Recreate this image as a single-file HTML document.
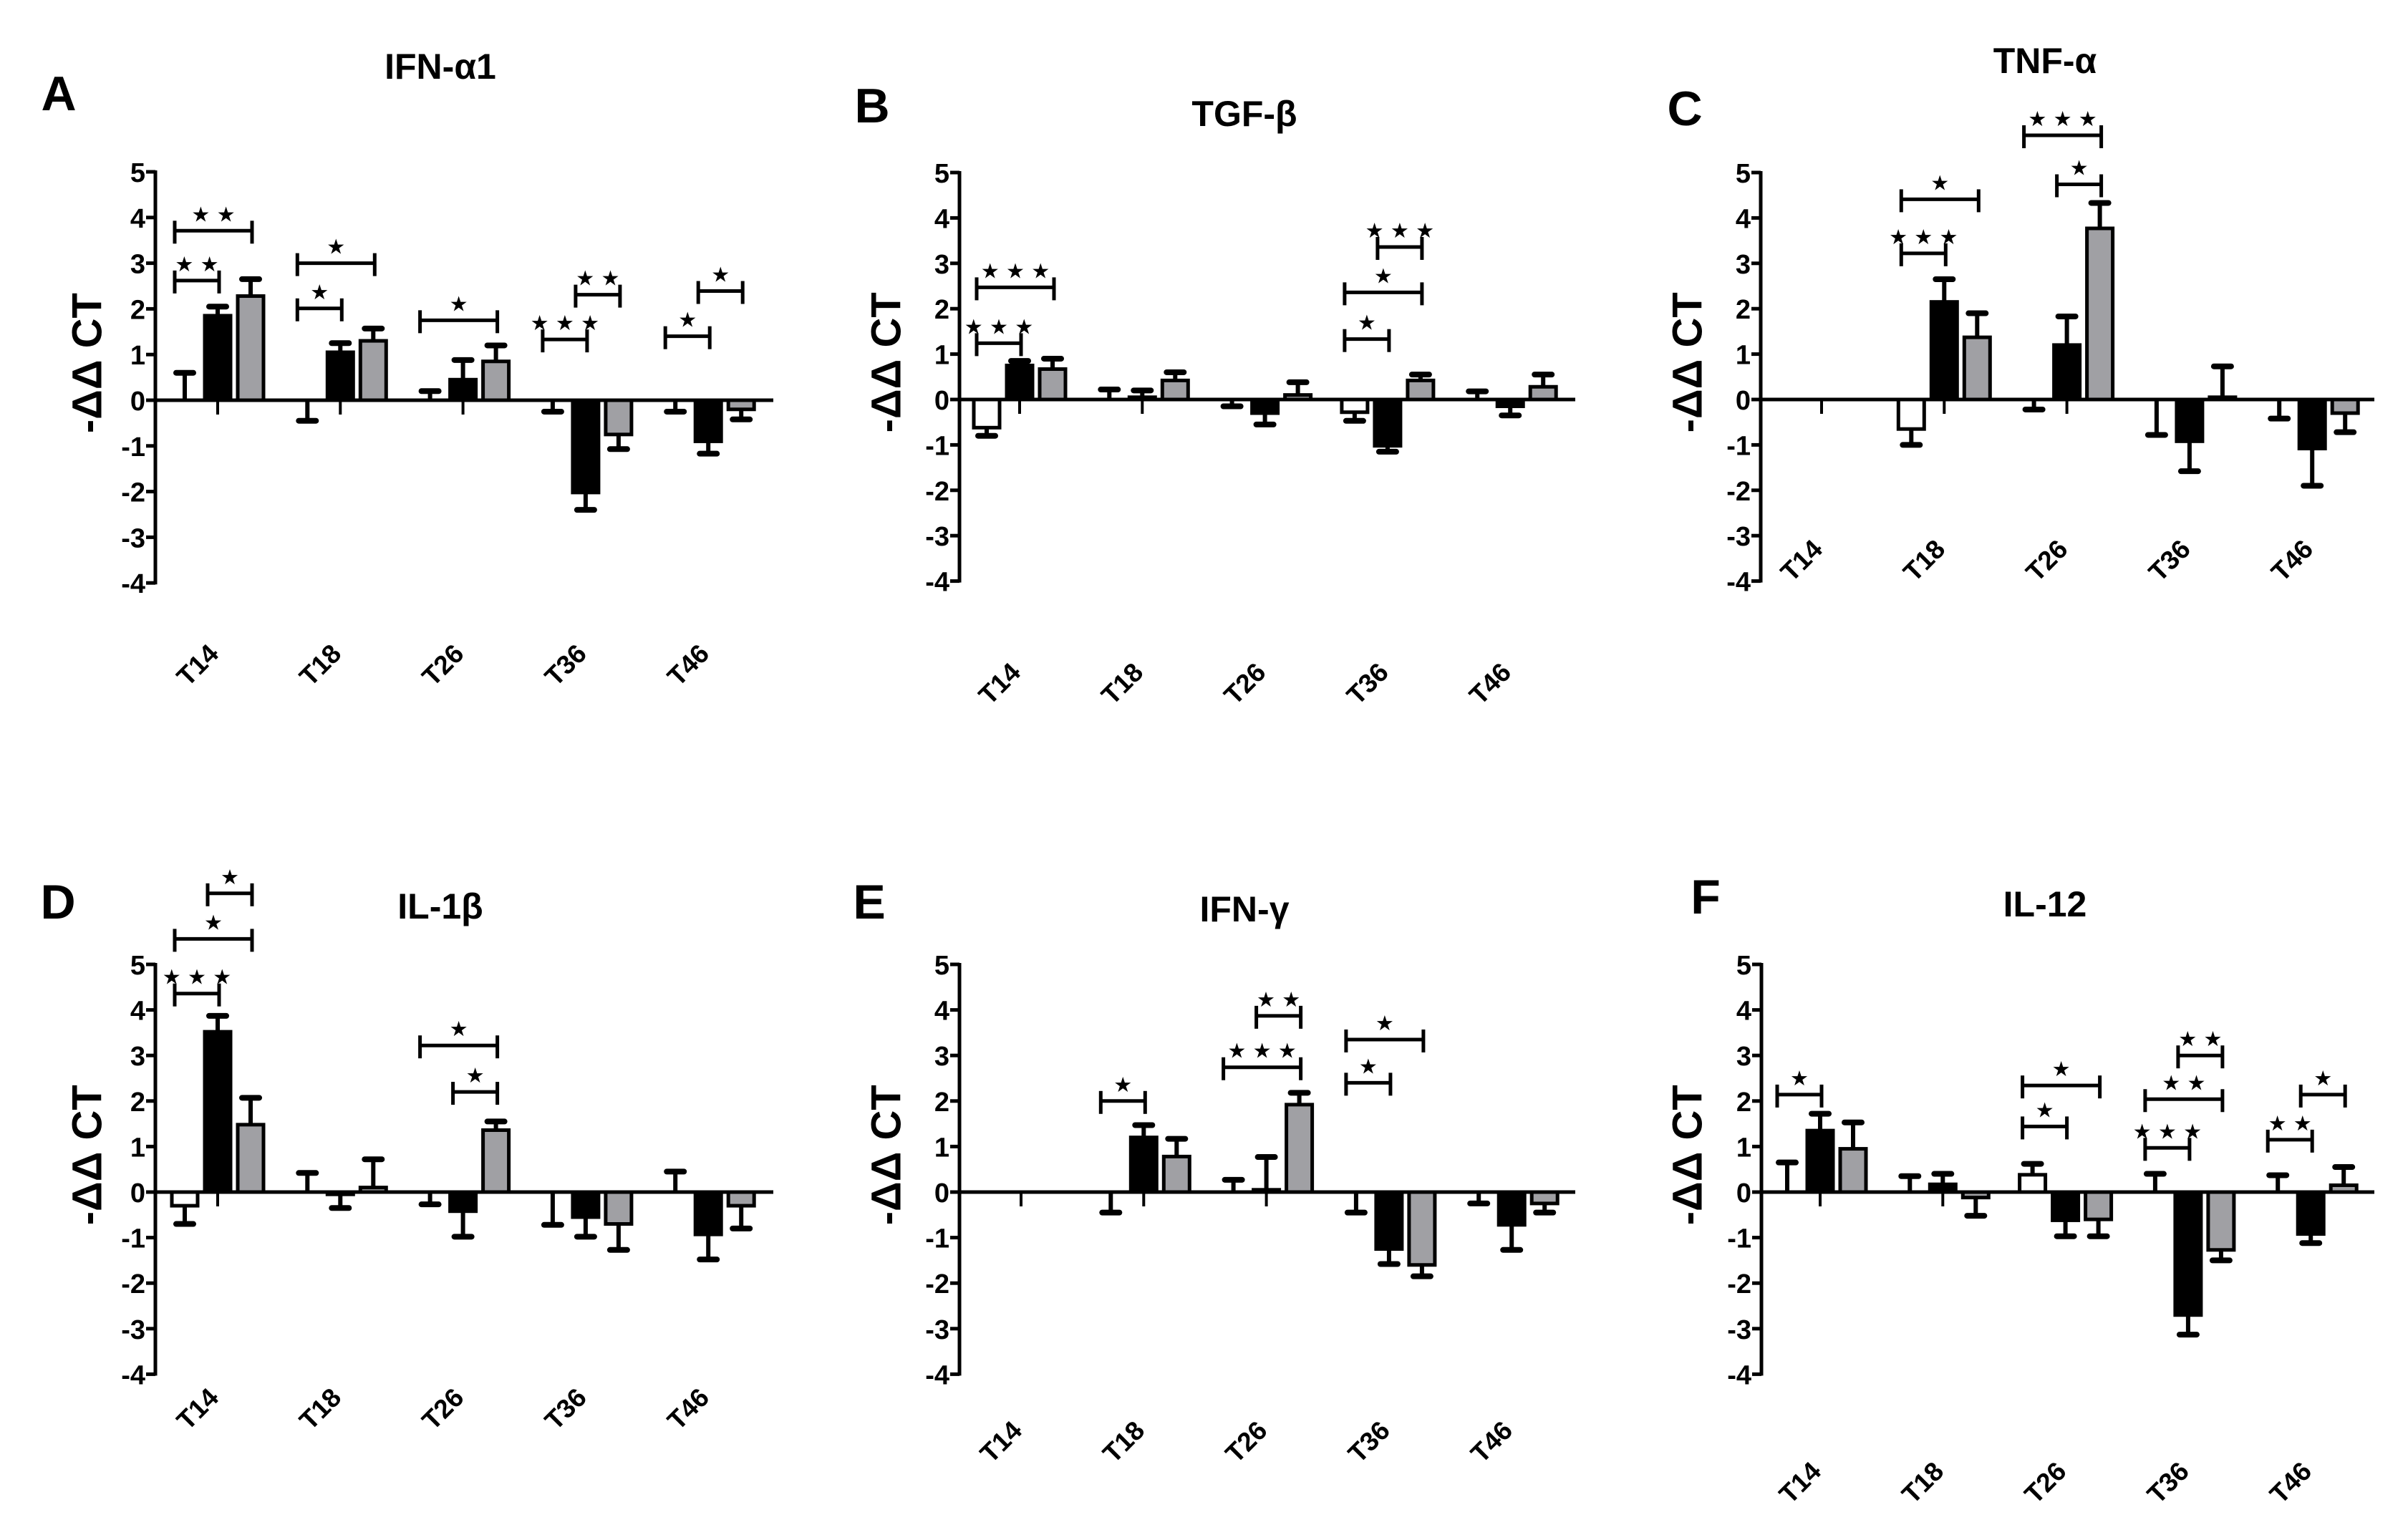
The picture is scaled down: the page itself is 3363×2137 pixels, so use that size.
<!DOCTYPE html>
<html><head><meta charset="utf-8"><style>
html,body{margin:0;padding:0;background:#fff}
svg{display:block}
text{font-family:"Liberation Sans",Arial,sans-serif;font-weight:bold;fill:#000}
.star{font-family:"DejaVu Sans",sans-serif;font-weight:normal}
</style></head><body>
<svg id="fig" width="3363" height="2137" viewBox="0 0 3363 2137" xmlns="http://www.w3.org/2000/svg"></svg>
<script>
const categories = ["T14","T18","T26","T36","T46"];
const yTicks = [5,4,3,2,1,0,-1,-2,-3,-4];
const panelLetters = ["A","B","C","D","E","F"];
const panelTitles = ["IFN-\u03b11","TGF-\u03b2","TNF-\u03b1","IL-1\u03b2","IFN-\u03b3","IL-12"];
// means per panel: [group][white, black, gray]
const meansA = [[0,1.85,2.28],[0,1.05,1.3],[0,0.45,0.85],[0,-2.02,-0.75],[0,-0.9,-0.2]];
const semA   = [[0.6,0.2,0.37],[-0.45,0.2,0.27],[0.2,0.43,0.35],[-0.25,-0.38,-0.32],[-0.25,-0.27,-0.22]];
const meansB = [[-0.62,0.75,0.67],[0,0.05,0.42],[0,-0.3,0.1],[-0.28,-1.02,0.42],[0,-0.15,0.28]];
const semB   = [[-0.18,0.1,0.23],[0.22,0.15,0.18],[-0.15,-0.25,0.28],[-0.19,-0.13,0.13],[0.18,-0.2,0.27]];
const meansC = [[0,0,0],[-0.65,2.15,1.37],[0,1.2,3.77],[0,-0.92,0.05],[0,-1.08,-0.3]];
const semC   = [[0,0,0],[-0.35,0.5,0.53],[-0.22,0.63,0.56],[-0.78,-0.66,0.68],[-0.42,-0.82,-0.42]];
const meansD = [[-0.3,3.52,1.48],[0,-0.05,0.1],[0,-0.42,1.36],[0,-0.55,-0.7],[0,-0.93,-0.3]];
const semD   = [[-0.4,0.35,0.59],[0.42,-0.3,0.62],[-0.27,-0.56,0.19],[-0.72,-0.43,-0.57],[0.45,-0.55,-0.5]];
const meansE = [[0,0,0],[0,1.2,0.78],[0,0.05,1.92],[0,-1.25,-1.6],[0,-0.72,-0.25]];
const semE   = [[0,0,0],[-0.45,0.27,0.39],[0.27,0.72,0.26],[-0.45,-0.33,-0.25],[-0.25,-0.55,-0.2]];
const meansF = [[0,1.35,0.95],[0,0.17,-0.12],[0.38,-0.62,-0.6],[0,-2.7,-1.27],[0,-0.92,0.15]];
const semF   = [[0.65,0.37,0.58],[0.35,0.23,-0.4],[0.24,-0.35,-0.37],[0.4,-0.43,-0.23],[0.37,-0.2,0.4]];
// significance: [group, fromBar, toBar, yValue, stars]
const sigA = [[0,0,1,2.62,2],[0,0,2,3.71,2],[1,0,1,2.01,1],[1,0,2,3.0,1],[2,0,2,1.75,1],[3,0,1,1.33,3],[3,1,2,2.31,2],[4,0,1,1.4,1],[4,1,2,2.39,1]];
const sigB = [[0,0,1,1.24,3],[0,0,2,2.47,3],[3,0,1,1.33,1],[3,0,2,2.36,1],[3,1,2,3.36,3]];
const sigC = [[1,0,1,3.22,3],[1,0,2,4.41,1],[2,1,2,4.74,1],[2,0,2,5.82,3]];
const sigD = [[0,0,1,4.36,3],[0,0,2,5.56,1],[0,1,2,6.56,1],[2,1,2,2.2,1],[2,0,2,3.22,1]];
const sigE = [[1,0,1,2.0,1],[2,0,2,2.74,3],[2,1,2,3.87,2],[3,0,1,2.4,1],[3,0,2,3.35,1]];
const sigF = [[0,0,1,2.14,1],[2,0,1,1.44,1],[2,0,2,2.34,1],[3,0,1,0.97,3],[3,0,2,2.04,2],[3,1,2,3.0,2],[4,0,1,1.15,2],[4,1,2,2.14,1]];

const panels = [
 {m:meansA,s:semA,g:sigA,ax:217,y5:240,y0:559,xe:1080,b0:304,title:[615,93],let:[82,131],lab:929,yl:122},
 {m:meansB,s:semB,g:sigB,ax:1340,y5:241,y0:558,xe:2200,b0:1424,title:[1738,159],let:[1218,148],lab:955,yl:1238},
 {m:meansC,s:semC,g:sigC,ax:2459,y5:241,y0:558,xe:3316,b0:2544,title:[2856,85],let:[2353,152],lab:783,yl:2357},
 {m:meansD,s:semD,g:sigD,ax:217,y5:1347,y0:1665,xe:1080,b0:304,title:[615,1266],let:[81,1260],lab:1968,yl:122},
 {m:meansE,s:semE,g:sigE,ax:1340,y5:1347,y0:1665,xe:2200,b0:1426,title:[1738,1270],let:[1214,1260],lab:2014,yl:1238},
 {m:meansF,s:semF,g:sigF,ax:2460,y5:1347,y0:1665,xe:3316,b0:2542,title:[2856,1263],let:[2382,1253],lab:2071,yl:2357}
];
const NS="http://www.w3.org/2000/svg";
const svg=document.getElementById('fig');
function mk(tag,attrs,parent){const e=document.createElementNS(NS,tag);for(const k in attrs)e.setAttribute(k,attrs[k]);(parent||svg).appendChild(e);return e;}
const fills=["#ffffff","#000000","#a0a0a4"];
const barNames=["control","group-1","group-2"];
const GSP=171.3, BOFF=46, BW=36;

panels.forEach((p,pi)=>{
  const g=mk('g',{});
  
  
  const unit=(p.y0-p.y5)/5;
  const Y=v=>p.y0-v*unit;
  const X=(gi,bi)=>p.b0+gi*GSP+(bi-1)*BOFF;
  let t=mk('text',{x:p.let[0],y:p.let[1],'font-size':68,'text-anchor':'middle','dominant-baseline':'central'},g);
  t.textContent=panelLetters[pi];
  
  
  t=mk('text',{x:p.title[0],y:p.title[1],'font-size':50,'text-anchor':'middle','dominant-baseline':'central'},g);
  t.textContent=panelTitles[pi];
  
  
  const ya=mk('line',{x1:p.ax,y1:Y(5)-2,x2:p.ax,y2:Y(-4)+2,stroke:'#000','stroke-width':5},g);
  
  
  yTicks.forEach(v=>{
    mk('line',{x1:p.ax-13,y1:Y(v),x2:p.ax,y2:Y(v),stroke:'#000','stroke-width':5},g);
    const tl=mk('text',{x:p.ax-14,y:Y(v)+2,'font-size':38,'text-anchor':'end','dominant-baseline':'central'},g);
    tl.textContent=v;
    
    
  });
  const yc=(Y(5)+Y(-4))/2-20;
  const yl=mk('text',{x:p.yl,y:yc,'font-size':58,'text-anchor':'middle','dominant-baseline':'central',transform:`rotate(-90 ${p.yl} ${yc})`},g);
  yl.textContent='-\u0394\u0394 CT';
  
  
  const xa=mk('line',{x1:p.ax,y1:Y(0),x2:p.xe,y2:Y(0),stroke:'#000','stroke-width':5},g);
  
  
  categories.forEach((c,gi)=>{
    const cx=X(gi,1);
    mk('line',{x1:cx,y1:Y(0),x2:cx,y2:Y(0)+20,stroke:'#000','stroke-width':4},g);
    const lx=cx-28, ly=p.lab;
    const cl=mk('text',{x:lx,y:ly,'font-size':37,'text-anchor':'middle','dominant-baseline':'central',transform:`rotate(-45 ${lx} ${ly})`},g);
    cl.textContent=c;
    
    
  });
  p.m.forEach((grp,gi)=>{
    grp.forEach((v,bi)=>{
      const cx=X(gi,bi);
      const e=p.s[gi][bi];
      if(e!==0){
        const yv=Y(v), ye=Y(v+e);
        mk('line',{x1:cx,y1:yv,x2:cx,y2:ye,stroke:'#000','stroke-width':6},g);
        mk('line',{x1:cx-12,y1:ye,x2:cx+12,y2:ye,stroke:'#000','stroke-width':8,'stroke-linecap':'round'},g);
      }
      if(v!==0){
        const r=mk('rect',{x:cx-BW/2,y:Math.min(Y(v),Y(0)),width:BW,height:Math.abs(Y(v)-Y(0)),fill:fills[bi],stroke:'#000','stroke-width':5},g);
        
        
      }
    });
  });
  p.g.forEach(s=>{
    const [gi,a,b,v,n]=s;
    const x1=X(gi,a)-14, x2=X(gi,b)+2, yy=Y(v);
    const br=mk('g',{},g);
    
    
    mk('line',{x1:x1,y1:yy,x2:x2,y2:yy,stroke:'#000','stroke-width':5},br);
    mk('line',{x1:x1,y1:yy-14,x2:x1,y2:yy+18,stroke:'#000','stroke-width':5},br);
    mk('line',{x1:x2,y1:yy-14,x2:x2,y2:yy+18,stroke:'#000','stroke-width':5},br);
    const st=mk('text',{x:(x1+x2)/2,y:yy-23,'font-size':29,'text-anchor':'middle','dominant-baseline':'central','class':'star'},br);
    st.textContent=Array(n).fill('\u2605').join(' ');
    
    
  });
});
</script>
</body></html>
